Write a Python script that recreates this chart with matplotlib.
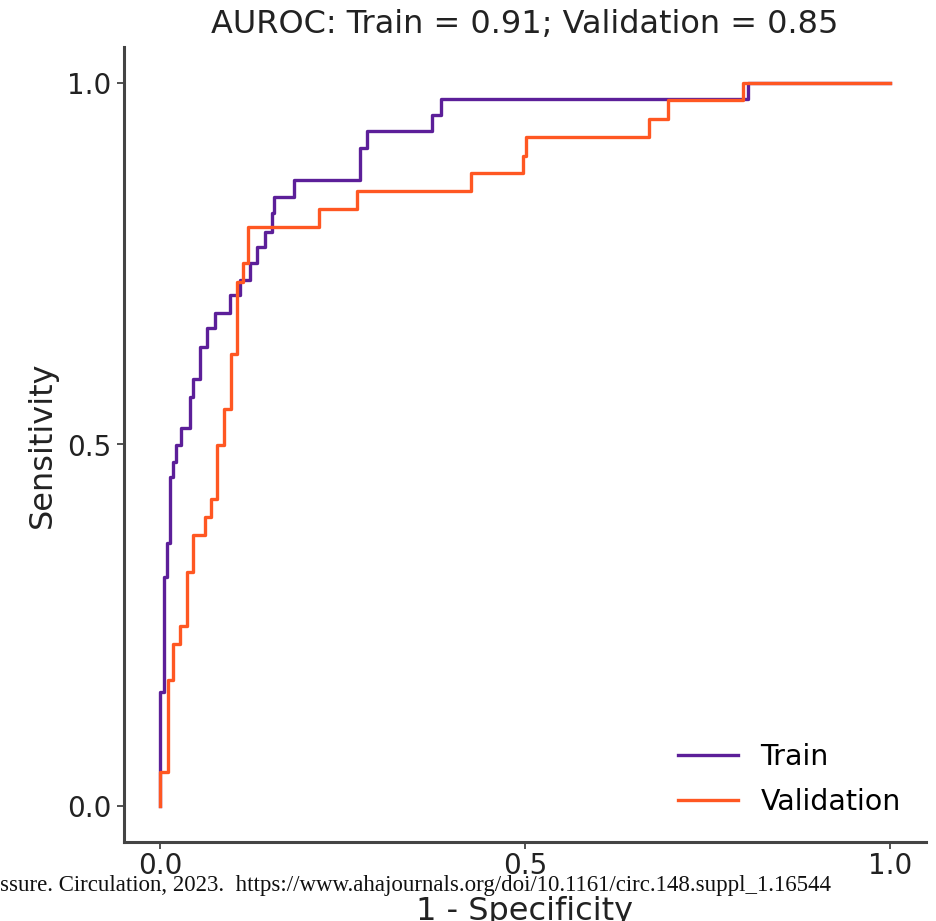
#!/usr/bin/env python3
import matplotlib
matplotlib.use('Agg')
import matplotlib.pyplot as plt
from matplotlib.patches import Rectangle

# ROC corner points: x of each vertical rise and the tpr reached there
TRAIN_FPR = [0.0, 0.0, 0.0055, 0.0096, 0.014, 0.018, 0.022, 0.029, 0.041, 0.045,
             0.055, 0.064, 0.075, 0.096, 0.110, 0.123, 0.133, 0.144, 0.153, 0.156,
             0.184, 0.274, 0.284, 0.373, 0.385, 0.805, 1.0]
TRAIN_TPR = [0.0, 0.158, 0.317, 0.364, 0.455, 0.476, 0.499, 0.523, 0.566, 0.591,
             0.635, 0.661, 0.682, 0.707, 0.728, 0.751, 0.773, 0.794, 0.820, 0.842,
             0.866, 0.910, 0.934, 0.956, 0.978, 1.0, 1.0]

VAL_FPR = [0.0, 0.0, 0.011, 0.018, 0.027, 0.037, 0.045, 0.062, 0.070, 0.078,
           0.088, 0.097, 0.105, 0.114, 0.121, 0.218, 0.270, 0.426, 0.497, 0.501,
           0.670, 0.696, 0.799, 1.0]
VAL_TPR = [0.0, 0.047, 0.174, 0.224, 0.249, 0.324, 0.375, 0.400, 0.425, 0.499,
           0.549, 0.625, 0.725, 0.751, 0.801, 0.826, 0.851, 0.876, 0.899, 0.925,
           0.950, 0.976, 1.0, 1.0]

AUC_TRAIN = 0.91
AUC_VAL = 0.85

TICKS = [0.0, 0.5, 1.0]
TICK_LABELS = ['0.0', '0.5', '1.0']

SOURCE_NOTE = ('ssure. Circulation, 2023.  '
               'https://www.ahajournals.org/doi/10.1161/circ.148.suppl_1.16544')


def main():
    W, H = 936, 921
    fig = plt.figure(figsize=(W / 100, H / 100), dpi=100)
    ax = fig.add_axes([123.5 / W, 79 / H, 803 / W, 795 / H])

    ax.plot(TRAIN_FPR, TRAIN_TPR, drawstyle='steps-post', color='#5c1f99',
            linewidth=2.4, label='Train')
    ax.plot(VAL_FPR, VAL_TPR, drawstyle='steps-post', color='#ff5722',
            linewidth=2.4, label='Validation')

    ax.set_xlim(-0.05, 1.05)
    ax.set_ylim(-0.05, 1.05)
    ax.set_xticks(TICKS)
    ax.set_xticklabels(TICK_LABELS)
    ax.set_yticks(TICKS)
    ax.set_yticklabels(TICK_LABELS)
    ax.tick_params(labelsize=20, length=5, width=1.2, colors='#333333',
                   labelcolor='#222222')
    ax.tick_params(axis='x', pad=2)

    for side in ('top', 'right'):
        ax.spines[side].set_visible(False)
    for side in ('left', 'bottom'):
        ax.spines[side].set_linewidth(2.2)
        ax.spines[side].set_color('#444444')

    ax.set_title(f'AUROC: Train = {AUC_TRAIN:.2f}; Validation = {AUC_VAL:.2f}',
                 fontsize=23, pad=10, color='#222222')
    ax.set_xlabel('1 - Specificity', fontsize=23, labelpad=12, color='#222222')
    ax.set_ylabel('Sensitivity', fontsize=23, labelpad=7, color='#222222')

    ax.legend(loc='lower right', frameon=False, fontsize=20.5, labelspacing=0.6,
              handlelength=2.1)

    # source note pasted over the lower margin, with its white strip
    fig.patches.append(Rectangle((0, 1 - 896 / H), 845 / W, 21 / H,
                                 transform=fig.transFigure, facecolor='white',
                                 edgecolor='none', zorder=2.9))
    fig.text(0.0, 1 - 885 / H, SOURCE_NOTE, fontsize=16.5,
             family='Liberation Serif', ha='left', va='center', color='#111111',
             zorder=3)

    fig.savefig('out.png', dpi=100)
    plt.close(fig)


if __name__ == '__main__':
    main()
